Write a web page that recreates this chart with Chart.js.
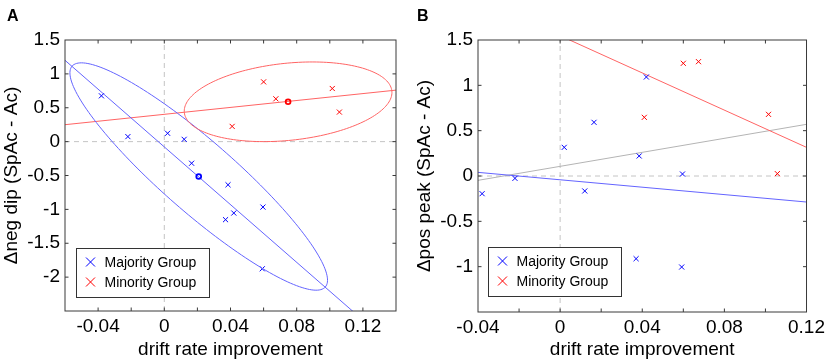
<!DOCTYPE html>
<html>
<head>
<meta charset="utf-8">
<script src="https://cdn.jsdelivr.net/npm/chart.js@4.4.0/dist/chart.umd.min.js"></script>
<style>
  body { margin: 0; width: 829px; height: 364px; background: #fff; position: relative; overflow: hidden;
         font-family: "Liberation Sans", Arial, Helvetica, sans-serif; }
  .panel { position: absolute; top: 0; width: 415px; height: 364px; }
  #panel-a { left: 0; }
  #panel-b { left: 414px; }
  .letter { position: absolute; top: 8px; font-weight: bold; font-size: 16px; line-height: 16px; }
</style>
</head>
<body>
<div id="panel-a" class="panel"><canvas id="chart-a"></canvas></div>
<div id="panel-b" class="panel"><canvas id="chart-b"></canvas></div>
<div class="letter" style="left:7px">A</div>
<div class="letter" style="left:417px">B</div>
<script>
// --- values ---
const groupLabels = ['Majority Group', 'Minority Group'];

// drift rate improvement for every subject (same subjects in both panels)
const majorityDrift = [-0.038, -0.022, 0.002, 0.012, 0.0165, 0.0385, 0.042, 0.037, 0.0596, 0.0592];
const minorityDrift = [0.0600, 0.0674, 0.1015, 0.1058, 0.0410];

// panel A: change of the negative dip
const majorityNegDip = [0.676, 0.074, 0.123, 0.034, -0.319, -0.637, -1.054, -1.152, -0.966, -1.877];
const minorityNegDip = [0.882, 0.632, 0.784, 0.436, 0.225];

// panel B: change of the positive peak
const majorityPosPeak = [-0.195, -0.026, 0.316, -0.165, 0.592, 0.221, 1.092, -0.912, 0.022, -1.004];
const minorityPosPeak = [1.243, 1.261, 0.680, 0.026, 0.647];

// group means shown as circles in panel A  [x, y]
const majorityMeanA = [0.0208, -0.515];
const minorityMeanA = [0.0748, 0.588];

// fitted lines, two end points [x, y] each (clipped by the axes)
const fitMajorityA = [[-0.06, 1.20], [0.14, -3.06]];
const fitMinorityA = [[-0.06, 0.25], [0.14, 0.76]];
const fitMajorityB = [[-0.04, 0.040], [0.12, -0.287]];
const fitMinorityB = [[-0.04, 1.958], [0.12, 0.316]];
const fitAllB = [[-0.04, -0.048], [0.12, 0.570]];

// spread ellipses in panel A: centre, first semi-axis, second semi-axis (data units)
const ellipseMajorityA = [[0.0208, -0.515], [0.0765, -1.63], [0.0143, 0.398]];
const ellipseMinorityA = [[0.0748, 0.588], [0.0627, 0.159], [0.0024, -0.566]];

// axis limits
const xLimA = [-0.06, 0.14];
const yLimA = [-2.5, 1.5];
const xLimB = [-0.04, 0.12];
const yLimB = [-1.5, 1.5];

const BLUE = '#0000ff', RED = '#ff0000';
const BLUE_LINE = '#6464ff', RED_LINE = '#ff6464', GREY_LINE = '#b4b4b4', ZERO_LINE = '#c4c4c4';
const FONT = '"Liberation Sans", Arial, Helvetica, sans-serif';

Chart.defaults.font.family = FONT;
Chart.defaults.color = '#000';

const toPoints = (xs, ys) => xs.map((x, i) => ({ x, y: ys[i] }));
const fmt = v => { const s = String(Number(v.toFixed(2))); return s === '-0' ? '0' : s; };

// --- MATLAB style box with inward ticks ---
const axesBox = {
    id: 'axesBox',
    afterDraw(chart) {
        const { ctx, chartArea: a, scales: { x, y } } = chart;
        const len = 3.5;
        ctx.save();
        ctx.strokeStyle = '#3a3a3a';
        ctx.lineWidth = 1;
        ctx.beginPath();
        x.ticks.forEach(t => {
            const px = x.getPixelForValue(t.value);
            if (px < a.left + 1 || px > a.right - 1) return;
            ctx.moveTo(px, a.bottom); ctx.lineTo(px, a.bottom - len);
            ctx.moveTo(px, a.top); ctx.lineTo(px, a.top + len);
        });
        y.ticks.forEach(t => {
            const py = y.getPixelForValue(t.value);
            if (py < a.top + 1 || py > a.bottom - 1) return;
            ctx.moveTo(a.left, py); ctx.lineTo(a.left + len, py);
            ctx.moveTo(a.right, py); ctx.lineTo(a.right - len, py);
        });
        ctx.stroke();
        ctx.strokeRect(a.left, a.top, a.right - a.left, a.bottom - a.top);
        ctx.restore();
    }
};

// --- ellipses, mapped through the chart scales ---
const spreadEllipses = {
    id: 'spreadEllipses',
    afterDatasetsDraw(chart, args, opts) {
        const { ctx, chartArea: a, scales: { x, y } } = chart;
        (opts.items || []).forEach(item => {
            const [c, u, v] = item.ellipse;
            ctx.save();
            ctx.beginPath();
            ctx.rect(a.left, a.top, a.right - a.left, a.bottom - a.top);
            ctx.clip();
            ctx.strokeStyle = item.color;
            ctx.lineWidth = 1;
            ctx.beginPath();
            for (let k = 0; k <= 180; k++) {
                const t = k / 180 * Math.PI * 2;
                const px = x.getPixelForValue(c[0] + u[0] * Math.cos(t) + v[0] * Math.sin(t));
                const py = y.getPixelForValue(c[1] + u[1] * Math.cos(t) + v[1] * Math.sin(t));
                if (k === 0) ctx.moveTo(px, py); else ctx.lineTo(px, py);
            }
            ctx.closePath();
            ctx.stroke();
            ctx.restore();
        });
    }
};

// --- boxed legend in the lower left corner ---
const groupLegend = {
    id: 'groupLegend',
    afterDraw(chart, args, opts) {
        const { ctx, chartArea: a } = chart;
        const w = 133, h = 49;
        const left = Math.round(a.left + opts.dx) + 0.5;
        const top = Math.round(a.bottom - opts.dy - h) + 0.5;
        const colors = [BLUE, RED];
        ctx.save();
        ctx.fillStyle = '#fff';
        ctx.fillRect(left, top, w, h);
        ctx.strokeStyle = '#333';
        ctx.lineWidth = 1;
        ctx.strokeRect(left, top, w, h);
        ctx.font = '14px ' + FONT;
        ctx.textBaseline = 'middle';
        groupLabels.forEach((label, i) => {
            const cy = top + 13.5 + i * 20;
            const cx = left + 14;
            ctx.strokeStyle = colors[i];
            ctx.beginPath();
            ctx.moveTo(cx - 4.5, cy - 4.5); ctx.lineTo(cx + 4.5, cy + 4.5);
            ctx.moveTo(cx - 4.5, cy + 4.5); ctx.lineTo(cx + 4.5, cy - 4.5);
            ctx.stroke();
            ctx.fillStyle = '#000';
            ctx.fillText(label, left + 28, cy + 1);
        });
        ctx.restore();
    }
};

function lineSet(pts, color, order, dash) {
    return {
        data: pts.map(p => ({ x: p[0], y: p[1] })),
        showLine: true, borderColor: color, borderWidth: 1, pointRadius: 0,
        borderDash: dash || [], order
    };
}

function crossSet(label, xs, ys, color) {
    return {
        label, data: toPoints(xs, ys), pointStyle: 'crossRot', pointRadius: 3.6,
        borderColor: color, borderWidth: 1, backgroundColor: color, order: 1
    };
}

function meanSet(pt, color) {
    return {
        data: [{ x: pt[0], y: pt[1] }], pointStyle: 'circle', pointRadius: 2.4,
        borderColor: color, borderWidth: 1.8, backgroundColor: 'rgba(255,255,255,0)', order: 0
    };
}

function buildChart(canvasId, p) {
    return new Chart(document.getElementById(canvasId), {
        type: 'scatter',
        data: { datasets: p.datasets },
        options: {
            responsive: true,
            maintainAspectRatio: false,
            animation: false,
            layout: { padding: { top: 40, right: 19, left: 0, bottom: 0 } },
            scales: {
                x: {
                    type: 'linear', min: p.xLim[0], max: p.xLim[1],
                    grid: { display: false, drawTicks: false },
                    border: { display: false },
                    ticks: {
                        stepSize: 0.02, padding: 4, maxRotation: 0, autoSkip: false,
                        font: { size: 19 },
                        callback: function(value) { return Math.round(value / 0.02) % 2 === 0 ? fmt(value) : ''; }
                    },
                    title: { display: true, text: 'drift rate improvement', font: { size: 19 }, padding: { top: 0, bottom: 3 } },
                    afterFit: scale => { scale.height = p.xHeight; }
                },
                y: {
                    type: 'linear', min: p.yLim[0], max: p.yLim[1],
                    grid: { display: false, drawTicks: false },
                    border: { display: false },
                    ticks: {
                        stepSize: 0.5, padding: 5, autoSkip: false,
                        font: { size: 19 },
                        callback: function(value) { return Math.abs(value - this.min) < 1e-9 ? '' : fmt(value); }
                    },
                    title: { display: true, text: p.yTitle, font: { size: 19 }, padding: { top: p.yTitlePad, bottom: 0 } },
                    afterFit: scale => { scale.width = p.yWidth; }
                }
            },
            plugins: {
                legend: { display: false },
                tooltip: { enabled: false },
                spreadEllipses: { items: p.ellipses || [] },
                groupLegend: { dx: p.legendDx, dy: p.legendDy }
            }
        },
        plugins: [spreadEllipses, axesBox, groupLegend]
    });
}

buildChart('chart-a', {
    xLim: xLimA, yLim: yLimA, yTitle: '\u0394neg dip (SpAc - Ac)',
    yWidth: 65, xHeight: 53, yTitlePad: 0, legendDx: 11, legendDy: 14,
    datasets: [
        meanSet(majorityMeanA, BLUE),
        meanSet(minorityMeanA, RED),
        crossSet(groupLabels[0], majorityDrift, majorityNegDip, BLUE),
        crossSet(groupLabels[1], minorityDrift, minorityNegDip, RED),
        lineSet(fitMajorityA, BLUE_LINE, 2),
        lineSet(fitMinorityA, RED_LINE, 2),
        lineSet([[0, yLimA[0]], [0, yLimA[1]]], ZERO_LINE, 5, [5, 4]),
        lineSet([[xLimA[0], 0], [xLimA[1], 0]], ZERO_LINE, 5, [5, 4])
    ],
    ellipses: [
        { ellipse: ellipseMajorityA, color: BLUE_LINE },
        { ellipse: ellipseMinorityA, color: RED_LINE }
    ]
});

buildChart('chart-b', {
    xLim: xLimB, yLim: yLimB, yTitle: '\u0394pos peak (SpAc - Ac)',
    yWidth: 64, xHeight: 52, yTitlePad: -1, legendDx: 10, legendDy: 16,
    datasets: [
        crossSet(groupLabels[0], majorityDrift, majorityPosPeak, BLUE),
        crossSet(groupLabels[1], minorityDrift, minorityPosPeak, RED),
        lineSet(fitMajorityB, BLUE_LINE, 2),
        lineSet(fitMinorityB, RED_LINE, 2),
        lineSet(fitAllB, GREY_LINE, 3),
        lineSet([[0, yLimB[0]], [0, yLimB[1]]], ZERO_LINE, 5, [5, 4]),
        lineSet([[xLimB[0], 0], [xLimB[1], 0]], ZERO_LINE, 5, [5, 4])
    ]
});
</script>
</body>
</html>
